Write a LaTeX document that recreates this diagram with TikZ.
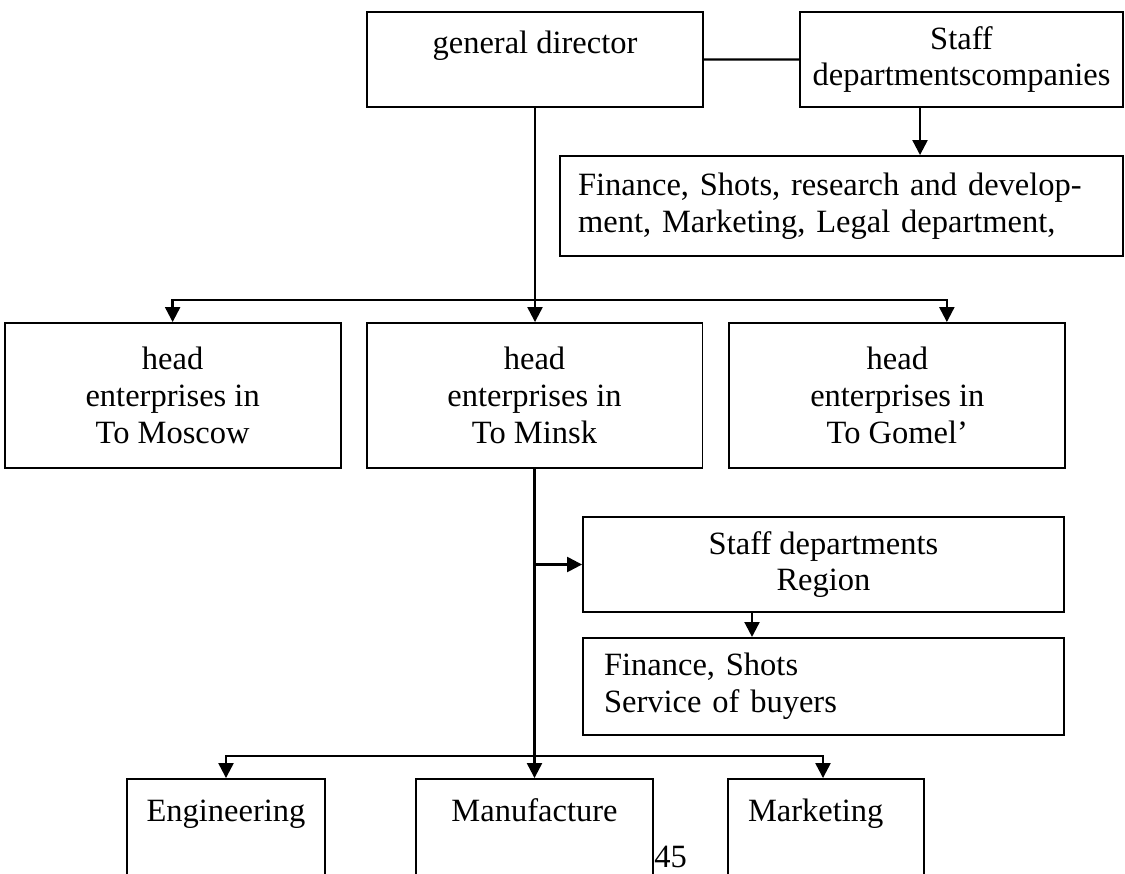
\documentclass[tikz,border=0pt]{standalone}
\usepackage{fontspec}
\setmainfont{Liberation Serif}
\usetikzlibrary{arrows.meta,positioning}

\begin{document}
\begin{tikzpicture}[
    x=0.02cm, y=-0.02cm,
    font=\fontsize{18.5pt}{21pt}\selectfont,
    box/.style={draw, line width=1.1pt, align=center, minimum height=1.9cm},
    head/.style={box, minimum width=6.72cm, minimum height=2.9cm},
    list/.style={draw, line width=1.1pt, align=left},
    topbox/.style={draw, line width=1.1pt, inner ysep=0pt, anchor=base},
    dept/.style={topbox, text height=0.84cm, text depth=3.6cm},
    arr/.style={-{Triangle[length=8.5pt,width=8.5pt]}, line width=1.3pt},
    link/.style={line width=1.3pt}
]
\useasboundingbox (0,0) rectangle (1125,873);
\clip (0,0) rectangle (1125,873);

% top level
\node[topbox, minimum width=6.72cm, text height=0.82cm, text depth=1.08cm] (gd) at (535,53) {general director};
\node[box, minimum width=6.46cm] (staff) at (961.5,59.5) {Staff\\departmentscompanies};
\node[list, text width=10.54cm, inner xsep=0.36cm, minimum height=2cm] (fin1) at (841.5,206) {Finance, Shots, research and develop-\\ment, Marketing, Legal department,};

% head enterprises
\node[head] (minsk) at (534.5,395.5) {head\\enterprises in\\To Minsk};
\node[head, left=0.48cm of minsk] (moscow) {head\\enterprises in\\To Moscow};
\node[head, right=0.5cm of minsk] (gomel) {head\\enterprises in\\To Gomel’};

% regional staff
\node[box, minimum width=9.62cm] (region) at (823.5,564.5) {Staff departments\\Region};
\node[list, text width=8.78cm, inner xsep=0.42cm, minimum height=1.94cm, below=0.48cm of region] (fin2) {Finance, Shots\\Service of buyers};

% departments
\node[dept, minimum width=3.96cm] (eng) at (226,821) {Engineering};
\node[dept, minimum width=4.74cm] (manuf) at (534.5,821) {Manufacture};
\node[dept, text width=3.12cm, inner xsep=0.4cm, align=left] (mkt) at (826,821) {Marketing};

\node[anchor=base west, inner sep=0pt] (pageno) at (654,867) {45};

% connectors
\draw[link] (gd.east) -- (staff.west);
\coordinate (sc) at ([xshift=-0.83cm]staff.south);
\draw[arr] (sc) -- (sc |- fin1.north);

\coordinate (hub) at (gd.south |- 0,300);
\draw[arr] (gd.south) -- (gd.south |- minsk.north);
\draw[arr] (hub) -| (moscow.north);
\draw[arr] (hub) -| ([xshift=0.99cm]gomel.north);

\draw[arr] (minsk.south) -- (manuf.north);
\draw[arr] (minsk.south |- region.west) -- (region.west);
\coordinate (rc) at ([xshift=-1.43cm]region.south);
\draw[arr] (rc) -- (rc |- fin2.north);
\coordinate (split) at (minsk.south |- 0,756);
\draw[arr] (split) -| (eng.north);
\draw[arr] (split) -| ([xshift=-0.06cm]mkt.north);
\end{tikzpicture}
\end{document}
